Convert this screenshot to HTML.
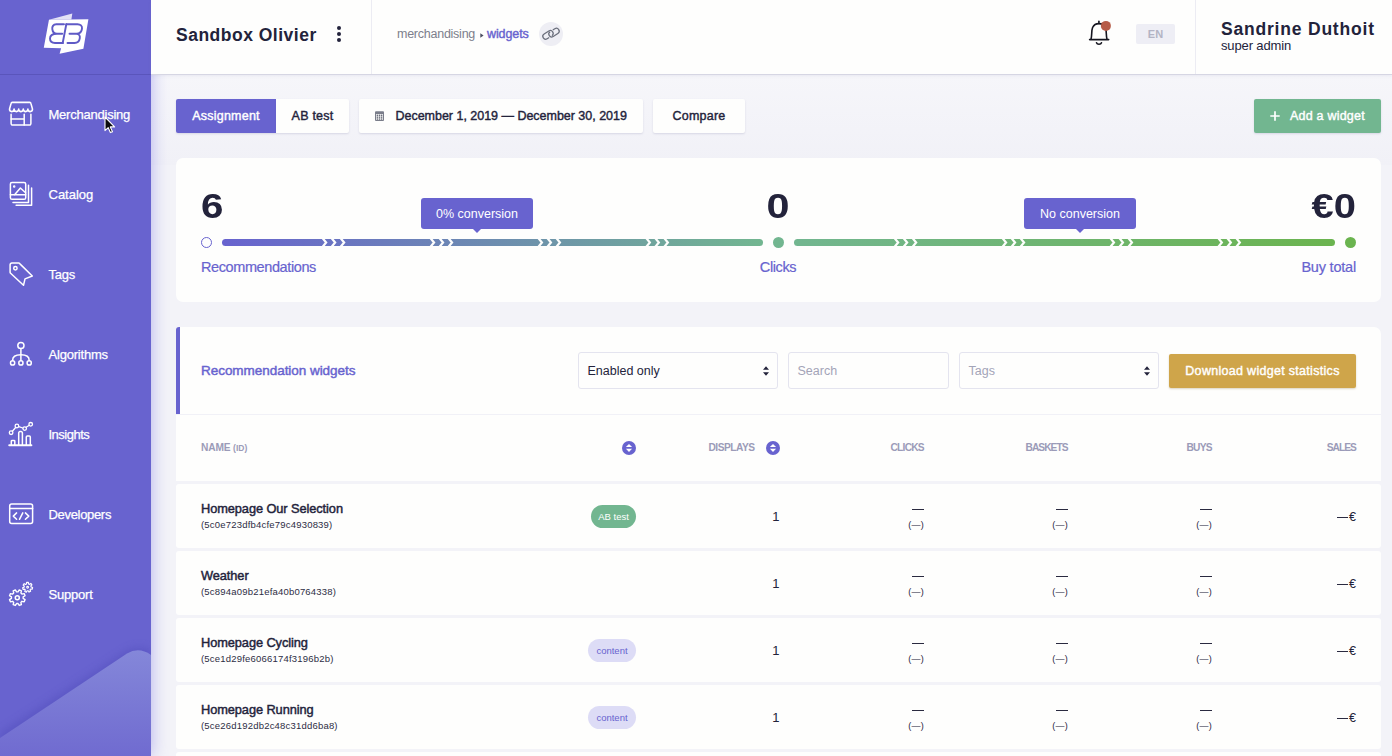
<!DOCTYPE html>
<html><head><meta charset="utf-8"><title>Widgets</title>
<style>
*{box-sizing:border-box}
html,body{margin:0;padding:0}
body{width:1392px;height:756px;overflow:hidden;position:relative;background:#f3f3f8;font-family:"Liberation Sans",sans-serif;color:#23233b;}
.abs{position:absolute}
.sidebar{left:0;top:0;width:151px;height:756px;background:#6863cf;box-shadow:0 0 16px rgba(108,102,225,.48);overflow:hidden}
.navlbl{color:#fff;font-size:13px;line-height:20px;white-space:nowrap;-webkit-text-stroke:0.25px #fff}
.header{z-index:5;left:151px;top:0;width:1241px;height:75px;background:#fefefd;border-bottom:1px solid #d6d6e3;box-shadow:0 1px 3px rgba(120,120,170,.10)}
.btn{height:34px;top:99px;line-height:34px;font-size:12.5px;font-weight:400;-webkit-text-stroke:0.4px;letter-spacing:0.22px;text-align:center;background:#fefefd;border-radius:2px;box-shadow:0 1px 2px rgba(90,90,140,.18);white-space:nowrap}
.card{background:#fefefd;border-radius:7px}
.big{font-size:35px;font-weight:700;line-height:40px;white-space:nowrap}
.lbl{-webkit-text-stroke:0.2px #6863cf;font-size:14.5px;color:#6863cf;line-height:20px;letter-spacing:-0.4px;white-space:nowrap}
.tip{background:#6863cf;color:#fff;font-size:12.5px;line-height:33px;height:31px;width:112px;text-align:center;border-radius:3px;white-space:nowrap}
.tip:after{content:"";position:absolute;left:50%;bottom:-4px;margin-left:-5px;border-left:5px solid transparent;border-right:5px solid transparent;border-top:5px solid #6863cf}
.field{top:352px;height:37px;border:1px solid #e4e4ef;border-radius:3px;background:#fefefd;font-size:12.5px;line-height:37px;padding-left:8.5px;white-space:nowrap}
.th{top:441px;font-size:10.2px;font-weight:700;color:#9b9bb8;line-height:14px;white-space:nowrap;text-transform:uppercase}
.row{left:176px;width:1205px;height:64px;background:#fefefd;border-radius:3px}
.rtitle{font-size:12.8px;font-weight:400;-webkit-text-stroke:0.45px;line-height:16px;letter-spacing:-0.08px;white-space:nowrap}
.rid{font-size:9.5px;line-height:12px;letter-spacing:0.2px;white-space:nowrap;color:#2d2d44}
.badge{height:23px;border-radius:12px;font-size:9.5px;line-height:24px;text-align:center;white-space:nowrap}
.badge.ab{background:#72b690;color:#fff}
.badge.ct{background:#dddcf6;color:#6863cf}
.num{font-size:13px;line-height:16px;white-space:nowrap}
.dash{font-size:13px;line-height:16px;letter-spacing:-1.5px;white-space:nowrap;margin-right:-1.5px}
.pdash{font-size:9px;line-height:12px;letter-spacing:0.25px;white-space:nowrap}
</style></head>
<body>

<!-- page bg shading under header -->
<div class="abs" style="left:151px;top:75px;width:1241px;height:90px;background:linear-gradient(#f6f6fa,#f1f1f7)"></div>

<!-- HEADER -->
<div class="abs header">
  <div class="abs" style="left:25px;top:23.3px;font-size:17.5px;font-weight:700;line-height:24px;letter-spacing:0.5px;white-space:nowrap">Sandbox Olivier</div>
  <svg class="abs" style="left:184px;top:25px" width="8" height="18" viewBox="0 0 8 18"><circle cx="4" cy="3" r="2" fill="#23233b"/><circle cx="4" cy="9" r="2" fill="#23233b"/><circle cx="4" cy="15" r="2" fill="#23233b"/></svg>
  <div class="abs" style="left:220px;top:0;width:1px;height:74px;background:#ececf3"></div>
  <div class="abs" style="left:246px;top:25px;font-size:12.5px;line-height:18px;color:#7d7f8c;letter-spacing:-0.25px;white-space:nowrap">merchandising</div>
  <svg class="abs" style="left:329px;top:33px" width="4" height="5" viewBox="0 0 4 5"><path d="M0.3,0.3 L3.6,2.5 L0.3,4.7 Z" fill="#4c4e60"/></svg>
  <div class="abs" style="left:336px;top:25px;font-size:12.5px;font-weight:400;-webkit-text-stroke:0.4px #6863cf;line-height:18px;color:#6863cf;letter-spacing:-0.1px;white-space:nowrap">widgets</div>
  <svg class="abs" style="left:388px;top:22px" width="24" height="24" viewBox="0 0 24 24"><circle cx="12" cy="12" r="12" fill="#eeeef4"/>
   <g fill="none" stroke="#6a6e7b" stroke-width="1.25"><rect x="3.4" y="10.1" width="11.2" height="5.6" rx="2.8" transform="rotate(-33 9 12.9)" stroke-dasharray="14 3.4 100"/><rect x="9.4" y="7.8" width="11.2" height="5.6" rx="2.8" transform="rotate(-33 15 10.6)" stroke-dasharray="0 3.2 100"/></g></svg>
  <!-- bell -->
  <svg class="abs" style="left:934px;top:18px" width="30" height="30" viewBox="1085 18 30 30"><g fill="none" stroke="#15151f" stroke-width="1.6" stroke-linecap="round" stroke-linejoin="round">
   <path d="M1098.9,21.2 V23.4"/>
   <path d="M1089.6,39.6 H1108.7 M1090.9,39.6 C1092.2,36 1091.2,30.5 1092.6,27.5 C1093.8,24.9 1096,23.6 1098.9,23.6 C1101.8,23.6 1104.2,24.9 1105.4,27.5 C1106.8,30.5 1105.8,36 1107.1,39.6"/>
   <path d="M1096.5,42.7 C1097.2,44.8 1100.8,44.8 1101.5,42.7"/></g>
   <circle cx="1105.9" cy="25.9" r="5" fill="#b65c48"/></svg>
  <div class="abs" style="left:985px;top:24px;width:39px;height:20px;background:#eeeef5;border-radius:2px;color:#b3b4c4;font-size:11px;font-weight:700;line-height:20px;text-align:center">EN</div>
  <div class="abs" style="left:1044px;top:0;width:1px;height:74px;background:#ececf3"></div>
  <div class="abs" style="left:1070px;top:17px;font-size:17.5px;font-weight:700;line-height:24px;letter-spacing:0.8px;white-space:nowrap">Sandrine Duthoit</div>
  <div class="abs" style="left:1070px;top:37.6px;font-size:13px;line-height:16px;letter-spacing:-0.14px;white-space:nowrap">super admin</div>
</div>

<!-- SIDEBAR -->
<div class="abs sidebar">
  <div class="abs" style="left:0;top:74px;width:151px;height:1px;background:rgba(40,35,120,.22)"></div>
  <svg class="abs" style="left:36px;top:6px" width="64" height="56" viewBox="36 6 64 56">
<path d="M48.96,19.7 L72.3,13.4 L71.4,19.4 Z" fill="#e3e2f6"/>
<path d="M48.96,19.7 L88.4,19.3 L83.4,48.8 L59.6,53.8 L61.1,48.3 L43.8,47.85 Z" fill="#fff"/>
<g fill="none" stroke="#5f5ac6" stroke-width="1.9" stroke-linecap="round" stroke-linejoin="round">
<path d="M64,24.2 H56.3 C53,24.2 52,27 52.3,29.2 C52.6,32 54,33.7 57,33.7 H62.2 M57,33.7 C52.5,33.7 50,35.5 50,38.6 C50,41.5 52,43 55,43 H63"/>
<path d="M66.3,24.2 L62.7,43"/>
<path d="M66.3,24.2 H77.5 C80.5,24.2 82.3,26 82,28.7 C81.7,31.8 79.5,33.7 76.5,33.7 H69.5 M76.5,33.7 C79,33.7 80.2,35.5 79.8,38.2 C79.4,41.2 77.5,43 74.5,43 H67.5"/>
</g></svg>
  <svg class="abs" style="left:0;top:90px" width="48" height="48" viewBox="0 90 48 48"><g fill="none" stroke="#fff" stroke-width="1.5" stroke-linecap="round" stroke-linejoin="round">
<path d="M9.5,109.1 L11.1,103.4 a1.3,1.3 0 0 1 1.2,-1 H29.7 a1.3,1.3 0 0 1 1.2,1 L32.5,109.1 a2.3,2.5 0 0 1 -4.6,0 a2.3,2.5 0 0 1 -4.6,0 a2.3,2.5 0 0 1 -4.6,0 a2.3,2.5 0 0 1 -4.6,0 a2.3,2.5 0 0 1 -4.6,0 Z" stroke-width="1.6"/>
<path d="M11.1,114.3 V123.6 a1.5,1.5 0 0 0 1.5,1.5 H29.4 a1.5,1.5 0 0 0 1.5,-1.5 V114.3"/>
<path d="M11.1,118.9 H24.2 M24.2,114.3 V125"/>
</g></svg>
<div class="abs navlbl" style="left:48.5px;top:105px;letter-spacing:-0.23px">Merchandising</div>
<svg class="abs" style="left:0;top:170px" width="48" height="48" viewBox="0 170 48 48"><g fill="none" stroke="#fff" stroke-width="1.5" stroke-linecap="round" stroke-linejoin="round">
<rect x="10.4" y="182.4" width="15.3" height="16.9" rx="1.6"/>
<path d="M10.4,194.8 H25.7"/>
<path d="M14.8,194.6 L20.4,188 L25.6,192.8"/>
<circle cx="14.2" cy="186.5" r="0.5" fill="#fff"/>
<path d="M28.5,185.3 V202.4 H13"/>
<path d="M31.6,188.1 V205.3 H16.1"/>
</g></svg>
<div class="abs navlbl" style="left:48.5px;top:185px;letter-spacing:0.0px">Catalog</div>
<svg class="abs" style="left:0;top:250px" width="48" height="48" viewBox="0 250 48 48"><g fill="none" stroke="#fff" stroke-width="1.5" stroke-linecap="round" stroke-linejoin="round">
<path d="M11.8,263.1 H18.6 a1.6,1.6 0 0 1 1.1,0.5 L32.3,276 L25,278.9 L23.5,285.3 L10.6,273.2 a1.6,1.6 0 0 1 -0.5,-1.1 V264.8 a1.7,1.7 0 0 1 1.7,-1.7 Z"/>
<circle cx="15.4" cy="268.3" r="1.7"/>
</g></svg>
<div class="abs navlbl" style="left:48.5px;top:265px;letter-spacing:-0.2px">Tags</div>
<svg class="abs" style="left:0;top:330px" width="48" height="48" viewBox="0 330 48 48"><g fill="none" stroke="#fff" stroke-width="1.5" stroke-linecap="round" stroke-linejoin="round">
<circle cx="20.9" cy="345.5" r="3.1"/>
<path d="M20.9,348.8 V360.4"/>
<path d="M12.6,360.4 C12.6,356 16,354.8 20.9,354.8 C25.8,354.8 29.2,356 29.2,360.4"/>
<circle cx="12.6" cy="362.9" r="2.1"/>
<circle cx="20.9" cy="362.9" r="2.1"/>
<circle cx="29.2" cy="362.9" r="2.1"/>
</g></svg>
<div class="abs navlbl" style="left:48.5px;top:345px;letter-spacing:-0.2px">Algorithms</div>
<svg class="abs" style="left:0;top:410px" width="48" height="48" viewBox="0 410 48 48"><g fill="none" stroke="#fff" stroke-width="1.5" stroke-linecap="round" stroke-linejoin="round">
<path d="M9.2,445.2 H31.4" stroke-width="1.9"/>
<path d="M11.3,445 V441.2 a0.8,0.8 0 0 1 0.8,-0.8 H14 a0.8,0.8 0 0 1 0.8,0.8 V445"/>
<path d="M18.7,445 V432.9 a1.3,1.3 0 0 1 1.3,-1.3 H21.1 a1.3,1.3 0 0 1 1.3,1.3 V445"/>
<path d="M26.3,445 V437 a1,1 0 0 1 1,-1 H29.3 a1,1 0 0 1 1,1 V445"/>
<path d="M12.4,431.2 L15.6,427.5 M18.8,426.6 L22.8,428 M26.2,427.2 L29.3,425.3" stroke-width="1.3"/>
<circle cx="11.1" cy="432.7" r="1.8" stroke-width="1.3"/>
<circle cx="16.9" cy="426" r="1.8" stroke-width="1.3"/>
<circle cx="24.7" cy="428.6" r="1.8" stroke-width="1.3"/>
<circle cx="30.7" cy="424.3" r="1.8" stroke-width="1.3"/>
</g></svg>
<div class="abs navlbl" style="left:48.5px;top:425px;letter-spacing:-0.5px">Insights</div>
<svg class="abs" style="left:0;top:490px" width="48" height="48" viewBox="0 490 48 48"><g fill="none" stroke="#fff" stroke-width="1.5" stroke-linecap="round" stroke-linejoin="round">
<rect x="9.7" y="504.1" width="22.9" height="19.5" rx="2"/>
<path d="M9.7,508.6 H32.6"/>
<path d="M16.6,512.9 L13.3,516.1 L16.6,519.3 M22.8,512.9 L19.5,519.3 M25.4,512.9 L28.8,516.1 L25.4,519.3"/>
</g></svg>
<div class="abs navlbl" style="left:48.5px;top:505px;letter-spacing:-0.32px">Developers</div>
<svg class="abs" style="left:0;top:570px" width="48" height="48" viewBox="0 570 48 48"><g fill="none" stroke="#fff" stroke-width="1.5" stroke-linecap="round" stroke-linejoin="round">
<path d="M23.15,598.45 L25.06,599.64 L24.16,601.81 L21.97,601.31 L20.91,602.37 L21.41,604.56 L19.24,605.46 L18.05,603.55 L16.55,603.55 L15.36,605.46 L13.19,604.56 L13.69,602.37 L12.63,601.31 L10.44,601.81 L9.54,599.64 L11.45,598.45 L11.45,596.95 L9.54,595.76 L10.44,593.59 L12.63,594.09 L13.69,593.03 L13.19,590.84 L15.36,589.94 L16.55,591.85 L18.05,591.85 L19.24,589.94 L21.41,590.84 L20.91,593.03 L21.97,594.09 L24.16,593.59 L25.06,595.76 L23.15,596.95Z" stroke-width="1.4"/>
<circle cx="17.3" cy="597.7" r="2" />
<path d="M31.08,586.94 L32.60,587.46 L32.26,589.10 L30.67,588.99 L30.05,589.80 L30.59,591.31 L29.10,592.07 L28.19,590.75 L27.18,590.77 L26.33,592.14 L24.81,591.45 L25.27,589.91 L24.62,589.13 L23.03,589.33 L22.62,587.70 L24.11,587.11 L24.31,586.11 L23.17,584.99 L24.18,583.65 L25.57,584.45 L26.47,583.99 L26.64,582.39 L28.32,582.35 L28.56,583.93 L29.49,584.35 L30.84,583.49 L31.92,584.78 L30.83,585.95Z" stroke-width="1.2"/>
<circle cx="27.6" cy="587.3" r="0.9" stroke-width="1.1"/>
</g></svg>
<div class="abs navlbl" style="left:48.5px;top:585px;letter-spacing:-0.2px">Support</div>

  <svg class="abs" style="left:0;top:630px" width="151" height="126" viewBox="0 630 151 126">
    <defs><linearGradient id="tri" x1="0" y1="0" x2="0" y2="1"><stop offset="0" stop-color="#8487d9"/><stop offset="1" stop-color="#706bd0"/></linearGradient>
    <filter id="blur"><feGaussianBlur stdDeviation="4"/></filter></defs>
    <path d="M0,733 L128,650 Q140,645 151,650 V760 H0 Z" fill="#4d48b8" opacity=".45" filter="url(#blur)"/>
    <path d="M0,738 L127,653.5 Q139,646.5 151,655 V756 H0 Z" fill="url(#tri)"/>
  </svg>
  <!-- cursor -->
  <svg class="abs" style="left:103.2px;top:115.3px" width="18" height="20" viewBox="-2 -2 18 20"><path d="M0,0 V13.6 L3.2,10.7 L5.4,15.6 L7.5,14.7 L5.3,9.9 H9.6 Z" fill="#0b0b0f" stroke="#fff" stroke-width="1.1" stroke-linejoin="round"/></svg>
</div>

<!-- TOOLBAR -->
<div class="abs btn" style="left:176px;width:100px;background:#6863cf;color:#fff;border-radius:2px 0 0 2px">Assignment</div>
<div class="abs btn" style="left:276px;width:73px;border-radius:0 2px 2px 0">AB test</div>
<div class="abs btn" style="left:359px;width:284px;text-align:left;padding-left:36.5px;letter-spacing:-0.02px">December 1, 2019 — December 30, 2019</div>
<svg class="abs" style="left:375px;top:111px" width="9" height="10" viewBox="0 0 9 10"><rect x="0" y="0.3" width="9" height="9.7" rx="1" fill="#7a7d8a"/><rect x="1" y="3" width="7" height="6" fill="#fefefd"/><g fill="#5d606e"><rect x="1.6" y="3.6" width="1.5" height="1.3"/><rect x="3.75" y="3.6" width="1.5" height="1.3"/><rect x="5.9" y="3.6" width="1.5" height="1.3"/><rect x="1.6" y="5.5" width="1.5" height="1.3"/><rect x="3.75" y="5.5" width="1.5" height="1.3"/><rect x="5.9" y="5.5" width="1.5" height="1.3"/><rect x="1.6" y="7.4" width="1.5" height="1.3"/><rect x="3.75" y="7.4" width="1.5" height="1.3"/><rect x="5.9" y="7.4" width="1.5" height="1.3"/></g></svg>
<div class="abs btn" style="left:653px;width:92px">Compare</div>
<div class="abs btn" style="left:1254px;width:127px;background:#72b690;color:#fff;text-align:left;padding-left:36px">Add a widget</div>
<svg class="abs" style="left:1270px;top:111px" width="10" height="10" viewBox="0 0 10 10"><path d="M5,0.3 V9.7 M0.3,5 H9.7" stroke="#fff" stroke-width="1.7"/></svg>

<!-- STATS CARD -->
<div class="abs card" style="left:176px;top:158px;width:1205px;height:144px"></div>
<div class="abs big" style="left:200.6px;top:186px;transform:scaleX(1.15);transform-origin:0 0">6</div>
<div class="abs big" style="left:678px;top:186px;width:200px;text-align:center;transform:scaleX(1.18)">0</div>
<div class="abs big" style="right:36.3px;top:186px;transform:scaleX(1.14);transform-origin:100% 0">€0</div>
<div class="abs" style="left:201px;top:237px;width:11px;height:11px;border:1.3px solid #6863cf;border-radius:50%;background:#fefefd"></div>
<svg class="abs" style="left:220px;top:237px" width="545" height="11" viewBox="220 237 545 11">
<defs><linearGradient id="g1" x1="222" x2="763" y1="0" y2="0" gradientUnits="userSpaceOnUse"><stop offset="0" stop-color="#6863cf"/><stop offset="1" stop-color="#72b690"/></linearGradient></defs>
<rect x="222" y="239" width="541" height="7" rx="3.5" fill="url(#g1)"/>
<polyline points="322.08,237.5 326.15,242.5 322.08,247.5" fill="none" stroke="#fefefd" stroke-width="2.2" stroke-linejoin="miter"/>
<polyline points="331.08,237.5 335.15,242.5 331.08,247.5" fill="none" stroke="#fefefd" stroke-width="2.2" stroke-linejoin="miter"/>
<polyline points="340.08,237.5 344.15,242.5 340.08,247.5" fill="none" stroke="#fefefd" stroke-width="2.2" stroke-linejoin="miter"/>
<polyline points="429.98,237.5 434.05,242.5 429.98,247.5" fill="none" stroke="#fefefd" stroke-width="2.2" stroke-linejoin="miter"/>
<polyline points="438.98,237.5 443.05,242.5 438.98,247.5" fill="none" stroke="#fefefd" stroke-width="2.2" stroke-linejoin="miter"/>
<polyline points="447.98,237.5 452.05,242.5 447.98,247.5" fill="none" stroke="#fefefd" stroke-width="2.2" stroke-linejoin="miter"/>
<polyline points="537.88,237.5 541.95,242.5 537.88,247.5" fill="none" stroke="#fefefd" stroke-width="2.2" stroke-linejoin="miter"/>
<polyline points="546.88,237.5 550.95,242.5 546.88,247.5" fill="none" stroke="#fefefd" stroke-width="2.2" stroke-linejoin="miter"/>
<polyline points="555.88,237.5 559.95,242.5 555.88,247.5" fill="none" stroke="#fefefd" stroke-width="2.2" stroke-linejoin="miter"/>
<polyline points="645.78,237.5 649.85,242.5 645.78,247.5" fill="none" stroke="#fefefd" stroke-width="2.2" stroke-linejoin="miter"/>
<polyline points="654.78,237.5 658.85,242.5 654.78,247.5" fill="none" stroke="#fefefd" stroke-width="2.2" stroke-linejoin="miter"/>
<polyline points="663.78,237.5 667.85,242.5 663.78,247.5" fill="none" stroke="#fefefd" stroke-width="2.2" stroke-linejoin="miter"/>
</svg>
<div class="abs" style="left:772.5px;top:237px;width:11px;height:11px;border-radius:50%;background:#72b690"></div>
<svg class="abs" style="left:792px;top:237px" width="545" height="11" viewBox="792 237 545 11">
<defs><linearGradient id="g2" x1="794" x2="1335" y1="0" y2="0" gradientUnits="userSpaceOnUse"><stop offset="0" stop-color="#72b690"/><stop offset="1" stop-color="#6bb44f"/></linearGradient></defs>
<rect x="794" y="239" width="541" height="7" rx="3.5" fill="url(#g2)"/>
<polyline points="894.08,237.5 898.15,242.5 894.08,247.5" fill="none" stroke="#fefefd" stroke-width="2.2" stroke-linejoin="miter"/>
<polyline points="903.08,237.5 907.15,242.5 903.08,247.5" fill="none" stroke="#fefefd" stroke-width="2.2" stroke-linejoin="miter"/>
<polyline points="912.08,237.5 916.15,242.5 912.08,247.5" fill="none" stroke="#fefefd" stroke-width="2.2" stroke-linejoin="miter"/>
<polyline points="1001.98,237.5 1006.05,242.5 1001.98,247.5" fill="none" stroke="#fefefd" stroke-width="2.2" stroke-linejoin="miter"/>
<polyline points="1010.98,237.5 1015.05,242.5 1010.98,247.5" fill="none" stroke="#fefefd" stroke-width="2.2" stroke-linejoin="miter"/>
<polyline points="1019.98,237.5 1024.05,242.5 1019.98,247.5" fill="none" stroke="#fefefd" stroke-width="2.2" stroke-linejoin="miter"/>
<polyline points="1109.88,237.5 1113.95,242.5 1109.88,247.5" fill="none" stroke="#fefefd" stroke-width="2.2" stroke-linejoin="miter"/>
<polyline points="1118.88,237.5 1122.95,242.5 1118.88,247.5" fill="none" stroke="#fefefd" stroke-width="2.2" stroke-linejoin="miter"/>
<polyline points="1127.88,237.5 1131.95,242.5 1127.88,247.5" fill="none" stroke="#fefefd" stroke-width="2.2" stroke-linejoin="miter"/>
<polyline points="1217.78,237.5 1221.85,242.5 1217.78,247.5" fill="none" stroke="#fefefd" stroke-width="2.2" stroke-linejoin="miter"/>
<polyline points="1226.78,237.5 1230.85,242.5 1226.78,247.5" fill="none" stroke="#fefefd" stroke-width="2.2" stroke-linejoin="miter"/>
<polyline points="1235.78,237.5 1239.85,242.5 1235.78,247.5" fill="none" stroke="#fefefd" stroke-width="2.2" stroke-linejoin="miter"/>
</svg>
<div class="abs" style="left:1344.8px;top:237px;width:11px;height:11px;border-radius:50%;background:#6bb44f"></div>
<div class="abs tip" style="left:421px;top:198px">0% conversion</div>
<div class="abs tip" style="left:1024px;top:198px">No conversion</div>
<div class="abs lbl" style="left:201px;top:257px">Recommendations</div>
<div class="abs lbl" style="left:678px;top:257px;width:200px;text-align:center">Clicks</div>
<div class="abs lbl" style="right:36px;top:257px;letter-spacing:-0.2px">Buy total</div>

<!-- TABLE CARD -->
<div class="abs" style="left:176px;top:327px;width:1205px;height:87px;background:#fefefd;border-radius:3px 7px 0 0"></div>
<div class="abs" style="left:176px;top:327px;width:4px;height:87px;background:#6863cf;border-radius:3px 0 0 0"></div>
<div class="abs" style="left:176px;top:414px;width:1205px;height:1px;background:#f1f1f7"></div>
<div class="abs" style="left:176px;top:415px;width:1205px;height:66px;background:#fefefd"></div>
<div class="abs" style="left:201px;top:361px;font-size:13.5px;font-weight:400;-webkit-text-stroke:0.45px #6863cf;line-height:20px;color:#6863cf;letter-spacing:-0.04px;white-space:nowrap">Recommendation widgets</div>
<div class="abs field" style="left:578px;width:200px">Enabled only</div>
<svg class="abs" style="left:762px;top:365px" width="8" height="12" viewBox="0 0 8 12"><path d="M4,1.2 L7,4.8 H1 Z M4,10.8 L7,7.2 H1 Z" fill="#23233b"/></svg>
<div class="abs field" style="left:788px;width:160.5px;color:#a3a4b8">Search</div>
<div class="abs field" style="left:959px;width:200px;color:#a3a4b8">Tags</div>
<svg class="abs" style="left:1143px;top:365px" width="8" height="12" viewBox="0 0 8 12"><path d="M4,1.2 L7,4.8 H1 Z M4,10.8 L7,7.2 H1 Z" fill="#23233b"/></svg>
<div class="abs" style="left:1169px;top:354px;width:187px;height:34px;background:#cfa54a;border-radius:2px;color:#fff;font-size:12.5px;font-weight:400;-webkit-text-stroke:0.4px;letter-spacing:0.3px;line-height:34px;text-align:center;box-shadow:0 1px 2px rgba(120,90,20,.25);white-space:nowrap">Download widget statistics</div>

<div class="abs th" style="left:201px;letter-spacing:-0.15px">NAME <span style="font-size:8.5px;letter-spacing:0">(ID)</span></div>
<svg class="abs" style="left:621px;top:440px" width="16" height="16" viewBox="0 0 16 16"><circle cx="8" cy="8" r="7" fill="#6863cf"/><path d="M8,4.1 L11.1,7.1 H4.9 Z M8,11.9 L11.1,8.8 H4.9 Z" fill="#fff"/></svg>
<div class="abs th" style="left:708.5px;letter-spacing:-0.5px">DISPLAYS</div>
<svg class="abs" style="left:765px;top:440px" width="16" height="16" viewBox="0 0 16 16"><circle cx="8" cy="8" r="7" fill="#6863cf"/><path d="M8,4.1 L11.1,7.1 H4.9 Z M8,11.9 L11.1,8.8 H4.9 Z" fill="#fff"/></svg>
<div class="abs th" style="left:890.5px;letter-spacing:-0.75px">CLICKS</div>
<div class="abs th" style="left:1025.5px;letter-spacing:-0.95px">BASKETS</div>
<div class="abs th" style="left:1186.5px;letter-spacing:-0.75px">BUYS</div>
<div class="abs th" style="left:1326.75px;letter-spacing:-1.0px">SALES</div>

<div class="abs row" style="top:484px">
<div class="abs rtitle" style="left:25px;top:17px">Homepage Our Selection</div>
<div class="abs rid" style="left:25px;top:35px">(5c0e723dfb4cfe79c4930839)</div>
<div class="abs badge ab" style="left:415px;top:21px;width:45px">AB test</div>
<div class="abs num" style="right:601.5px;top:25.2px">1</div>
<div class="abs" style="left:736.4px;top:25px;width:11.6px;height:1.1px;background:#2a2a40"></div><div class="abs pdash" style="right:457px;top:35px">(—)</div><div class="abs" style="left:880.4px;top:25px;width:11.6px;height:1.1px;background:#2a2a40"></div><div class="abs pdash" style="right:313px;top:35px">(—)</div><div class="abs" style="left:1024.4px;top:25px;width:11.6px;height:1.1px;background:#2a2a40"></div><div class="abs pdash" style="right:169px;top:35px">(—)</div>
<div class="abs" style="left:1161.3px;top:32.6px;width:10.9px;height:1.1px;background:#2a2a40"></div><div class="abs num" style="right:25px;top:25px;font-size:12.5px">€</div>
</div>
<div class="abs row" style="top:551px">
<div class="abs rtitle" style="left:25px;top:17px">Weather</div>
<div class="abs rid" style="left:25px;top:35px">(5c894a09b21efa40b0764338)</div>

<div class="abs num" style="right:601.5px;top:25.2px">1</div>
<div class="abs" style="left:736.4px;top:25px;width:11.6px;height:1.1px;background:#2a2a40"></div><div class="abs pdash" style="right:457px;top:35px">(—)</div><div class="abs" style="left:880.4px;top:25px;width:11.6px;height:1.1px;background:#2a2a40"></div><div class="abs pdash" style="right:313px;top:35px">(—)</div><div class="abs" style="left:1024.4px;top:25px;width:11.6px;height:1.1px;background:#2a2a40"></div><div class="abs pdash" style="right:169px;top:35px">(—)</div>
<div class="abs" style="left:1161.3px;top:32.6px;width:10.9px;height:1.1px;background:#2a2a40"></div><div class="abs num" style="right:25px;top:25px;font-size:12.5px">€</div>
</div>
<div class="abs row" style="top:618px">
<div class="abs rtitle" style="left:25px;top:17px">Homepage Cycling</div>
<div class="abs rid" style="left:25px;top:35px">(5ce1d29fe6066174f3196b2b)</div>
<div class="abs badge ct" style="left:412px;top:21px;width:48px">content</div>
<div class="abs num" style="right:601.5px;top:25.2px">1</div>
<div class="abs" style="left:736.4px;top:25px;width:11.6px;height:1.1px;background:#2a2a40"></div><div class="abs pdash" style="right:457px;top:35px">(—)</div><div class="abs" style="left:880.4px;top:25px;width:11.6px;height:1.1px;background:#2a2a40"></div><div class="abs pdash" style="right:313px;top:35px">(—)</div><div class="abs" style="left:1024.4px;top:25px;width:11.6px;height:1.1px;background:#2a2a40"></div><div class="abs pdash" style="right:169px;top:35px">(—)</div>
<div class="abs" style="left:1161.3px;top:32.6px;width:10.9px;height:1.1px;background:#2a2a40"></div><div class="abs num" style="right:25px;top:25px;font-size:12.5px">€</div>
</div>
<div class="abs row" style="top:685px">
<div class="abs rtitle" style="left:25px;top:17px">Homepage Running</div>
<div class="abs rid" style="left:25px;top:35px">(5ce26d192db2c48c31dd6ba8)</div>
<div class="abs badge ct" style="left:412px;top:21px;width:48px">content</div>
<div class="abs num" style="right:601.5px;top:25.2px">1</div>
<div class="abs" style="left:736.4px;top:25px;width:11.6px;height:1.1px;background:#2a2a40"></div><div class="abs pdash" style="right:457px;top:35px">(—)</div><div class="abs" style="left:880.4px;top:25px;width:11.6px;height:1.1px;background:#2a2a40"></div><div class="abs pdash" style="right:313px;top:35px">(—)</div><div class="abs" style="left:1024.4px;top:25px;width:11.6px;height:1.1px;background:#2a2a40"></div><div class="abs pdash" style="right:169px;top:35px">(—)</div>
<div class="abs" style="left:1161.3px;top:32.6px;width:10.9px;height:1.1px;background:#2a2a40"></div><div class="abs num" style="right:25px;top:25px;font-size:12.5px">€</div>
</div>
<div class="abs row" style="top:752px">
<div class="abs rtitle" style="left:25px;top:17px">Homepage Trail</div>
<div class="abs rid" style="left:25px;top:35px">(5ce26d492db2c48c31dd6ba9)</div>
<div class="abs badge ct" style="left:412px;top:21px;width:48px">content</div>
<div class="abs num" style="right:601.5px;top:25.2px">1</div>
<div class="abs" style="left:736.4px;top:25px;width:11.6px;height:1.1px;background:#2a2a40"></div><div class="abs pdash" style="right:457px;top:35px">(—)</div><div class="abs" style="left:880.4px;top:25px;width:11.6px;height:1.1px;background:#2a2a40"></div><div class="abs pdash" style="right:313px;top:35px">(—)</div><div class="abs" style="left:1024.4px;top:25px;width:11.6px;height:1.1px;background:#2a2a40"></div><div class="abs pdash" style="right:169px;top:35px">(—)</div>
<div class="abs" style="left:1161.3px;top:32.6px;width:10.9px;height:1.1px;background:#2a2a40"></div><div class="abs num" style="right:25px;top:25px;font-size:12.5px">€</div>
</div>

</body></html>
